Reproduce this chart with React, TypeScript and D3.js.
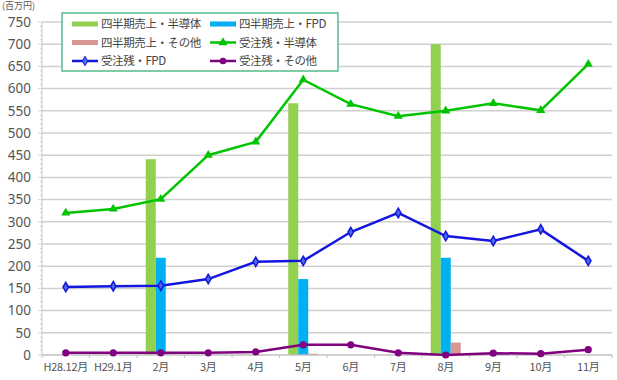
import React from "react";
import * as d3 from "d3";

const categories = ["H28.12月", "H29.1月", "2月", "3月", "4月", "5月", "6月", "7月", "8月", "9月", "10月", "11月"];
const barSemi = [null, null, 441, null, null, 567, null, null, 700, null, null, null];
const barFPD = [null, null, 219, null, null, 171, null, null, 219, null, null, null];
const barOther = [null, null, 1, null, null, 3, null, null, 28, null, null, null];
const backlogSemi = [320, 329, 351, 450, 480, 620, 565, 538, 550, 567, 551, 655];
const backlogFPD = [153, 155, 156, 171, 210, 212, 277, 320, 268, 257, 283, 212];
const backlogOther = [5, 5, 5, 5, 7, 23, 23, 5, 0, 4, 3, 12];
const yTicks = [0, 50, 100, 150, 200, 250, 300, 350, 400, 450, 500, 550, 600, 650, 700, 750];

const W = 617, H = 380;
const left = 42, right = 612, top = 22, bottom = 355;
const font = "'Noto Sans CJK JP', 'Noto Sans', sans-serif";

export default function App() {
  const x = d3.scaleBand<string>().domain(categories).range([left, right]);
  const y = d3.scaleLinear().domain([0, 750]).range([bottom, top]);
  const bw = 10;
  const cx = (i: number) => (x(categories[i]) as number) + x.bandwidth() / 2;
  const line = d3.line<number>().x((_, i) => cx(i)).y((d) => y(d));
  const minor = d3.range(0, 751, 10);

  const bars = [
    { data: barSemi, color: "#92d050", off: -1.5 },
    { data: barFPD, color: "#00b0f0", off: -0.5 },
    { data: barOther, color: "#da9694", off: 0.5 },
  ];

  const tri = d3.symbol().type(d3.symbolTriangle).size(36)();
  const dia = d3.symbol().type(d3.symbolDiamond).size(26)();

  const legend = [
    { label: "四半期売上・半導体", color: "#92d050", kind: "bar", col: 0, row: 0 },
    { label: "四半期売上・FPD", color: "#00b0f0", kind: "bar", col: 1, row: 0 },
    { label: "四半期売上・その他", color: "#da9694", kind: "bar", col: 0, row: 1 },
    { label: "受注残・半導体", color: "#00c400", kind: "tri", col: 1, row: 1 },
    { label: "受注残・FPD", color: "#1515e0", kind: "dia", col: 0, row: 2 },
    { label: "受注残・その他", color: "#800080", kind: "circ", col: 1, row: 2 },
  ];

  return (
    <div style={{ position: "absolute", left: 0, top: 0 }}>
      <svg width={W} height={H} style={{ display: "block", background: "#fff" }} fontFamily={font}>
        {/* gridlines */}
        {yTicks.slice(1).map((t) => (
          <line key={t} x1={left} x2={right} y1={y(t)} y2={y(t)} stroke="#d0d0d0" strokeWidth={1.5} />
        ))}
        {/* y axis */}
        <line x1={left} x2={left} y1={top} y2={bottom} stroke="#c8c8c8" strokeWidth={1} />
        {minor.map((t) => (
          <line key={t} x1={left - (t % 50 === 0 ? 4 : 2)} x2={left} y1={y(t)} y2={y(t)} stroke="#c8c8c8" strokeWidth={0.8} />
        ))}
        {yTicks.map((t) => (
          <text key={t} x={31} y={y(t)} dy="0.36em" textAnchor="end" fontSize={13.5} fill="#555" fontFamily="'Noto Sans', sans-serif">{t}</text>
        ))}
        <text x={2} y={9} fontSize={9} fill="#555">(百万円)</text>
        {/* bars */}
        {bars.map((b, bi) =>
          b.data.map((v, i) =>
            v == null ? null : (
              <rect key={bi + "-" + i} x={cx(i) + b.off * bw} width={bw} y={y(v)} height={bottom - y(v)} fill={b.color} />
            )
          )
        )}
        {/* x axis */}
        <line x1={left} x2={right} y1={bottom} y2={bottom} stroke="#c0c0c0" strokeWidth={1.5} />
        {categories.map((c) => (
          <line key={c} x1={(x(c) as number)} x2={(x(c) as number)} y1={bottom} y2={bottom + 3} stroke="#c0c0c0" />
        ))}
        <line x1={right} x2={right} y1={bottom} y2={bottom + 3} stroke="#c0c0c0" />
        {categories.map((c, i) => (
          <text key={c} x={cx(i)} y={371} textAnchor="middle" fontSize={11} fill="#555" letterSpacing={-0.3}>{c}</text>
        ))}
        {/* lines */}
        <path d={line(backlogSemi) as string} fill="none" stroke="#00c400" strokeWidth={2.5} />
        {backlogSemi.map((v, i) => (
          <path key={i} d={tri as string} transform={`translate(${cx(i)},${y(v)})`} fill="#00c400" />
        ))}
        <path d={line(backlogFPD) as string} fill="none" stroke="#1515e0" strokeWidth={2.5} />
        {backlogFPD.map((v, i) => (
          <path key={i} d={dia as string} transform={`translate(${cx(i)},${y(v)})`} fill="#4a6ee8" stroke="#1515e0" strokeWidth={1.5} />
        ))}
        <path d={line(backlogOther) as string} fill="none" stroke="#800080" strokeWidth={2.5} />
        {backlogOther.map((v, i) => (
          <circle key={i} cx={cx(i)} cy={y(v)} r={3.6} fill="#800080" />
        ))}
        {/* legend */}
        <rect x={62} y={13} width={276} height={58} fill="#fff" stroke="#55bb88" strokeWidth={1.5} />
        {legend.map((l) => {
          const lx = l.col === 0 ? 72 : 210;
          const ly = 24 + l.row * 18.5;
          return (
            <g key={l.label}>
              {l.kind === "bar" ? (
                <rect x={lx} y={ly - 2.5} width={26} height={5} fill={l.color} />
              ) : (
                <line x1={lx} x2={lx + 26} y1={ly} y2={ly} stroke={l.color} strokeWidth={2.5} />
              )}
              {l.kind === "tri" && <path d={tri as string} transform={`translate(${lx + 13},${ly})`} fill={l.color} />}
              {l.kind === "dia" && <path d={dia as string} transform={`translate(${lx + 13},${ly})`} fill="#4a6ee8" stroke={l.color} />}
              {l.kind === "circ" && <circle cx={lx + 13} cy={ly} r={3.3} fill={l.color} />}
              <text x={lx + 29} y={ly} dy="0.36em" fontSize={11.5} fill="#444" letterSpacing={-0.4}>{l.label}</text>
            </g>
          );
        })}
      </svg>
    </div>
  );
}
